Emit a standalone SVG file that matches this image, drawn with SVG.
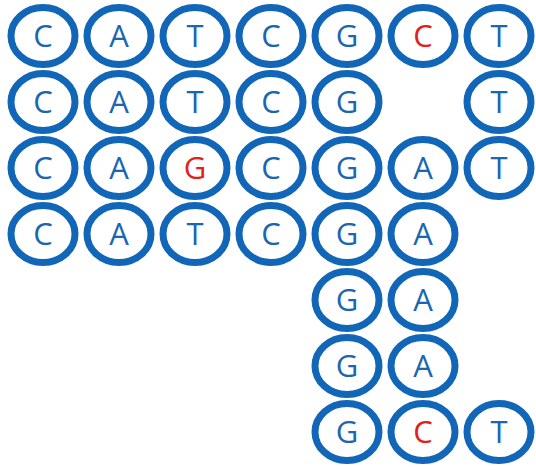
<svg xmlns="http://www.w3.org/2000/svg" width="536" height="470" viewBox="0 0 536 470">
  <style>
    .ring { fill: #ffffff; stroke: #1166b8; stroke-width: 7; }
    .base { font-family: "Open Sans", "Noto Sans", "DejaVu Sans", sans-serif; font-size: 31px; fill: #1a66b0; text-anchor: middle; }
    .mut { fill: #e3201b; }
  </style>
  <defs>
    <ellipse id="ring" cx="0" cy="0" rx="32" ry="28.5" class="ring"/>
  </defs>
  <rect width="536" height="470" fill="#ffffff"/>

  <!-- row 1 -->
  <g id="r1c1" transform="translate(43,36)"><use href="#ring"/><text class="base" y="11">C</text></g>
  <g id="r1c2" transform="translate(119,36)"><use href="#ring"/><text class="base" y="11">A</text></g>
  <g id="r1c3" transform="translate(195,36)"><use href="#ring"/><text class="base" y="11">T</text></g>
  <g id="r1c4" transform="translate(271,36)"><use href="#ring"/><text class="base" y="11">C</text></g>
  <g id="r1c5" transform="translate(347,36)"><use href="#ring"/><text class="base" y="11">G</text></g>
  <g id="r1c6" transform="translate(423,36)"><use href="#ring"/><text class="base mut" y="11">C</text></g>
  <g id="r1c7" transform="translate(499,36)"><use href="#ring"/><text class="base" y="11">T</text></g>

  <!-- row 2 -->
  <g id="r2c1" transform="translate(43,102)"><use href="#ring"/><text class="base" y="11">C</text></g>
  <g id="r2c2" transform="translate(119,102)"><use href="#ring"/><text class="base" y="11">A</text></g>
  <g id="r2c3" transform="translate(195,102)"><use href="#ring"/><text class="base" y="11">T</text></g>
  <g id="r2c4" transform="translate(271,102)"><use href="#ring"/><text class="base" y="11">C</text></g>
  <g id="r2c5" transform="translate(347,102)"><use href="#ring"/><text class="base" y="11">G</text></g>
  <g id="r2c7" transform="translate(499,102)"><use href="#ring"/><text class="base" y="11">T</text></g>

  <!-- row 3 -->
  <g id="r3c1" transform="translate(43,168)"><use href="#ring"/><text class="base" y="11">C</text></g>
  <g id="r3c2" transform="translate(119,168)"><use href="#ring"/><text class="base" y="11">A</text></g>
  <g id="r3c3" transform="translate(195,168)"><use href="#ring"/><text class="base mut" y="11">G</text></g>
  <g id="r3c4" transform="translate(271,168)"><use href="#ring"/><text class="base" y="11">C</text></g>
  <g id="r3c5" transform="translate(347,168)"><use href="#ring"/><text class="base" y="11">G</text></g>
  <g id="r3c6" transform="translate(423,168)"><use href="#ring"/><text class="base" y="11">A</text></g>
  <g id="r3c7" transform="translate(499,168)"><use href="#ring"/><text class="base" y="11">T</text></g>

  <!-- row 4 -->
  <g id="r4c1" transform="translate(43,234)"><use href="#ring"/><text class="base" y="11">C</text></g>
  <g id="r4c2" transform="translate(119,234)"><use href="#ring"/><text class="base" y="11">A</text></g>
  <g id="r4c3" transform="translate(195,234)"><use href="#ring"/><text class="base" y="11">T</text></g>
  <g id="r4c4" transform="translate(271,234)"><use href="#ring"/><text class="base" y="11">C</text></g>
  <g id="r4c5" transform="translate(347,234)"><use href="#ring"/><text class="base" y="11">G</text></g>
  <g id="r4c6" transform="translate(423,234)"><use href="#ring"/><text class="base" y="11">A</text></g>

  <!-- rows 5-7 -->
  <g id="r5c5" transform="translate(347,300)"><use href="#ring"/><text class="base" y="11">G</text></g>
  <g id="r5c6" transform="translate(423,300)"><use href="#ring"/><text class="base" y="11">A</text></g>
  <g id="r6c5" transform="translate(347,366)"><use href="#ring"/><text class="base" y="11">G</text></g>
  <g id="r6c6" transform="translate(423,366)"><use href="#ring"/><text class="base" y="11">A</text></g>
  <g id="r7c5" transform="translate(347,432)"><use href="#ring"/><text class="base" y="11">G</text></g>
  <g id="r7c6" transform="translate(423,432)"><use href="#ring"/><text class="base mut" y="11">C</text></g>
  <g id="r7c7" transform="translate(499,432)"><use href="#ring"/><text class="base" y="11">T</text></g>

  <g id="connectors"/>
</svg>
